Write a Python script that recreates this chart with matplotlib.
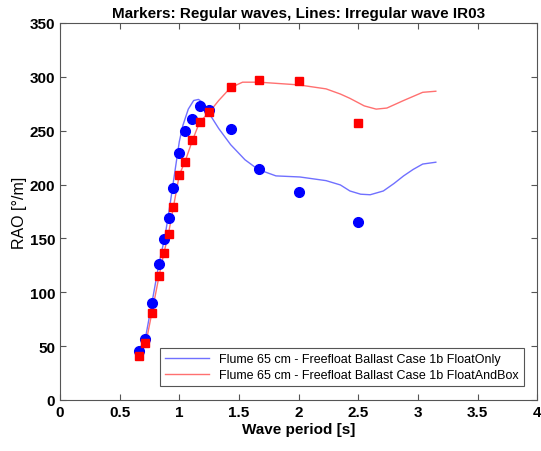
import numpy as np
import matplotlib
matplotlib.use("Agg")
import matplotlib.pyplot as plt

plt.rcParams['font.family'] = ['Liberation Sans', 'DejaVu Sans']

# --- regular wave tests (markers) ---
period_reg = [0.66, 0.71, 0.77, 0.83, 0.87, 0.91, 0.95, 1.00, 1.05, 1.11,
              1.17, 1.25, 1.43, 1.67, 2.00, 2.50]
rao_float_reg = [45, 57, 90, 126, 149, 169, 197, 229, 250, 261,
                 273, 269, 252, 214, 193, 165]
rao_box_reg = [41, 53, 81, 115, 136, 154, 179, 209, 221, 241,
               258, 267, 291, 297, 296, 257]

# --- irregular wave IR03 (lines) ---
period_irr_float = [0.66, 0.72, 0.77, 0.83, 0.88, 0.92, 0.96, 1.00, 1.03, 1.075,
                    1.12, 1.16, 1.20, 1.25, 1.33, 1.43, 1.55, 1.66, 1.81, 2.01,
                    2.23, 2.35, 2.43, 2.52, 2.60, 2.71, 2.80, 2.88, 2.96, 3.04, 3.15]
rao_float_irr = [45, 60, 90, 127, 152, 180, 210, 240, 255, 270,
                 278, 279, 276, 266, 252, 237, 223, 214, 208, 207,
                 203.6, 199.6, 194, 191, 190.5, 194, 201, 208, 214, 219, 220.7]

period_irr_box = [0.66, 0.72, 0.77, 0.83, 0.87, 0.91, 0.95, 1.00, 1.05, 1.11,
                  1.17, 1.25, 1.33, 1.43, 1.53, 1.67, 2.00, 2.23, 2.35, 2.43,
                  2.55, 2.65, 2.74, 2.88, 3.04, 3.15]
rao_box_irr = [41, 53, 81, 115, 136, 155, 179, 209, 222, 241,
               258, 267, 278, 290, 295, 295, 292.5, 288.8, 284, 280,
               273, 270, 271, 278, 285.6, 286.6]

labels = ["Flume 65 cm - Freefloat Ballast Case 1b FloatOnly",
          "Flume 65 cm - Freefloat Ballast Case 1b FloatAndBox"]

fig = plt.figure(figsize=(5.41, 4.52), dpi=100)
ax = fig.add_axes([0.111, 0.113, 0.882, 0.834])

ax.plot(period_reg, rao_float_reg, 'o', color='#0000ff', markersize=7, zorder=3)
ax.plot(period_reg, rao_box_reg, 's', color='#ff0000', markersize=5.5, zorder=3)
l1, = ax.plot(period_irr_float, rao_float_irr, color='#7070ff', linewidth=1.0)
l2, = ax.plot(period_irr_box, rao_box_irr, color='#ff7070', linewidth=1.0)

ax.set_xlim(0, 4)
ax.set_ylim(0, 350)
ax.set_xticks(np.arange(0, 4.01, 0.5))
ax.set_xticklabels(['0', '0.5', '1', '1.5', '2', '2.5', '3', '3.5', '4'])
ax.set_yticks(np.arange(0, 351, 50))

ax.tick_params(direction='in', top=True, right=True, length=4, width=0.8,
               color='#555555', labelsize=11)
for lab in ax.get_xticklabels() + ax.get_yticklabels():
    lab.set_fontweight('bold')
for sp in ax.spines.values():
    sp.set_color('#555555')
    sp.set_linewidth(0.8)

ax.set_xlabel("Wave period [s]", fontsize=11, fontweight='bold', labelpad=2)
ax.set_ylabel("RAO [°/m]", fontsize=11.5, labelpad=2)
ax.set_title("Markers: Regular waves, Lines: Irregular wave IR03",
             fontsize=11, fontweight='bold', pad=4)

leg = ax.legend([l1, l2], labels, loc='lower right', fontsize=9,
                fancybox=False, framealpha=1, edgecolor='#555555',
                bbox_to_anchor=(0.972, 0.037), borderaxespad=0, borderpad=0.4,
                handlelength=3.5, labelspacing=0.3)
leg.get_frame().set_linewidth(0.8)

fig.savefig("out.png", dpi=100)
